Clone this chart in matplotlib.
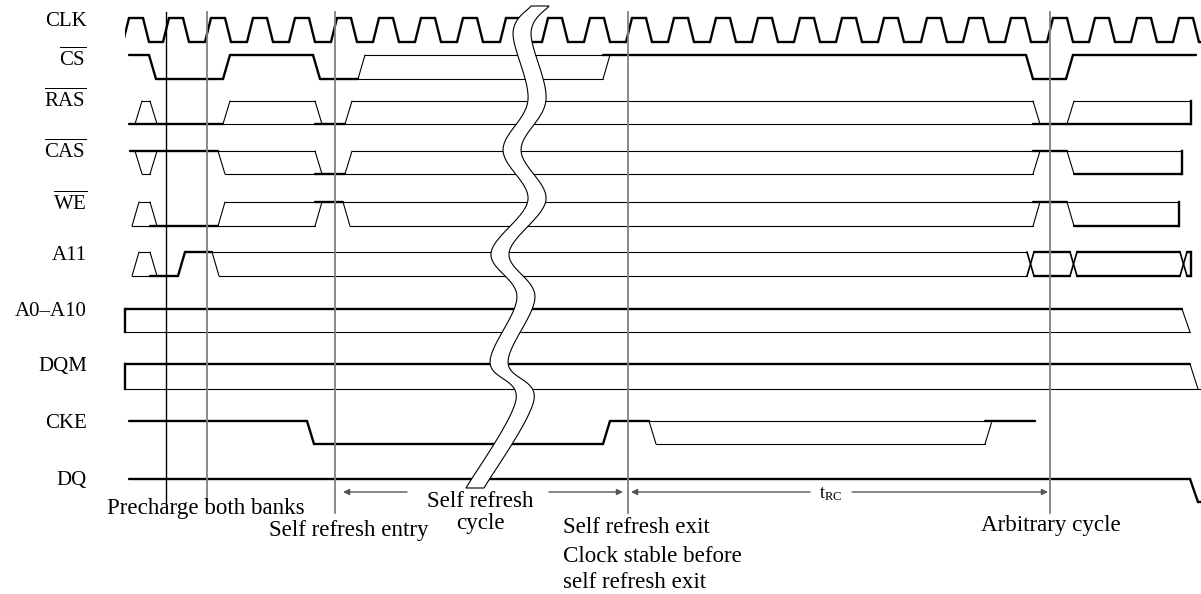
import numpy as np
import matplotlib.pyplot as plt
from matplotlib.patches import Polygon, Rectangle

plt.rcParams['font.family'] = ['Liberation Serif', 'DejaVu Serif']
plt.rcParams['mathtext.fontset'] = 'custom'
plt.rcParams['mathtext.rm'] = 'Liberation Serif'
plt.rcParams['mathtext.it'] = 'Liberation Serif:italic'

THICK = 1.7
THIN = 0.8

# =========================
# SIGNAL DATA
# edges: x position where each state starts, last one = end of trace
# states: H high, L low, X don't care, V valid bus,
#         T top thick/bottom thin, U top thin/bottom thick, l thin low
# =========================
labels = ['CLK', r'$\overline{\mathrm{CS}}$', r'$\overline{\mathrm{RAS}}$',
          r'$\overline{\mathrm{CAS}}$', r'$\overline{\mathrm{WE}}$', 'A11',
          'A0\u2013A10', 'DQM', 'CKE', 'DQ']
label_y = [22, 59, 100, 151, 203, 256, 312, 366, 423, 481]

# row levels (high, low)
levels = [(18, 42), (55, 79), (101, 124), (151, 174), (202, 226),
          (252, 276), (309, 332), (364, 389), (421, 444), (479, 502)]

clk_rise = [126, 166, 208, 250, 292, 334, 376, 418, 460, 503, 545, 587, 629,
            671, 713, 755, 797, 839, 881, 924, 966, 1008, 1050, 1092, 1134, 1176]

cs_edges = [129, 149, 223, 313, 358, 603, 1026, 1066, 1196]
cs_states = ['H', 'L', 'H', 'L', 'X', 'H', 'L', 'H']

ras_edges = [129, 135, 150, 223, 315, 345, 1033, 1067, 1191]
ras_states = ['L', 'U', 'L', 'X', 'L', 'X', 'L', 'U']

cas_edges = [130, 135, 150, 218, 315, 345, 1033, 1067, 1182]
cas_states = ['H', 'T', 'H', 'X', 'L', 'X', 'H', 'U']

we_edges = [132, 132, 150, 218, 315, 343, 1033, 1067, 1179]
we_states = ['L', 'X', 'L', 'X', 'H', 'X', 'H', 'U']

a11_edges = [132, 132, 150, 178, 212, 1027, 1070, 1180, 1191]
a11_states = ['L', 'X', 'L', 'H', 'X', 'V', 'V', 'V']

addr_edges = [125, 1182, 1190]
addr_states = ['T', 'l']

dqm_edges = [125, 1190, 1215]
dqm_states = ['T', 'l']

cke_edges = [129, 307, 603, 649, 985, 1035]
cke_states = ['H', 'L', 'H', 'X', 'H']

dq_edges = [129, 1190, 1215]
dq_states = ['H', 'L']

# vertical markers
marker_x = [166, 207, 335, 628, 1050]
marker_end = [505, 505, 513, 513, 513]
marker_color = ['black', 'gray', 'gray', 'gray', 'gray']

# break mark centre line (y, x)
break_y = [6, 33, 100, 150, 200, 253, 297, 362, 400, 488]
break_x = [540, 522, 537, 512, 537, 500, 526, 499, 525, 475]

# arrows (tail, head) on the timing row
arrow_tail = [407, 549, 810, 852]
arrow_head = [343, 623, 631, 1048]
arrow_y = 492

notes = ['Precharge both banks', 'Self refresh entry', 'Self refresh', 'cycle',
         'Self refresh exit', 'Clock stable before', 'self refresh exit',
         'Arbitrary cycle']
note_x = [206, 349, 480, 480, 563, 563, 563, 1051]
note_y = [514, 536, 507, 529, 533, 562, 588, 531]
note_ha = ['center', 'center', 'center', 'center', 'left', 'left', 'left', 'center']

STYLE = {
    'H': {'H': THICK},
    'L': {'L': THICK},
    'l': {'L': THIN},
    'X': {'H': THIN, 'L': THIN},
    'V': {'H': THICK, 'L': THICK},
    'T': {'H': THICK, 'L': THIN},
    'U': {'H': THIN, 'L': THICK},
}
OTHER = {'H': 'L', 'L': 'H'}


def draw_signal(ax, edges, states, hi, lo, w=7, bar_start=False, bar_end=False):
    yv = {'H': hi, 'L': lo}
    arts = []
    for i, s in enumerate(states):
        t0, t1 = edges[i], edges[i + 1]
        prev = states[i - 1] if i > 0 else None
        cross = (prev is not None and len(STYLE[prev]) == 2 and len(STYLE[s]) == 2
                 and 'V' in (prev, s))
        for lv, lw in STYLE[s].items():
            xs = t0
            if prev is not None and (cross or lv not in STYLE[prev]):
                xs = t0 + w
            if t1 > xs:
                arts += ax.plot([xs, t1], [yv[lv]] * 2, color='black', lw=lw,
                                solid_capstyle='round')
        if prev is None:
            continue
        if cross:
            segs = {('H', 'L'), ('L', 'H')}
        else:
            segs = set()
            for lv in STYLE[prev]:
                if lv not in STYLE[s]:
                    segs.add((lv, OTHER[lv]))
            for lv in STYLE[s]:
                if lv not in STYLE[prev]:
                    segs.add((OTHER[lv], lv))
        pure = prev in ('H', 'L') and s in ('H', 'L')
        elw = THICK if pure else (1.2 if cross else THIN)
        for a, b in segs:
            arts += ax.plot([t0, t0 + w], [yv[a], yv[b]], color='black', lw=elw,
                            solid_capstyle='round')
    if bar_start:
        arts += ax.plot([edges[0]] * 2, [hi, lo], color='black', lw=THICK)
    if bar_end:
        arts += ax.plot([edges[-1]] * 2, [hi, lo], color='black', lw=THICK)
    return arts


def catmull(pts, n=14):
    p = np.asarray(pts, float)
    p = np.vstack([p[0], p, p[-1]])
    out = []
    for i in range(1, len(p) - 2):
        p0, p1, p2, p3 = p[i - 1], p[i], p[i + 1], p[i + 2]
        for s in np.linspace(0, 1, n, endpoint=False):
            out.append(0.5 * (2 * p1 + (-p0 + p2) * s
                              + (2 * p0 - 5 * p1 + 4 * p2 - p3) * s ** 2
                              + (-p0 + 3 * p1 - 3 * p2 + p3) * s ** 3))
    out.append(p[-2])
    return np.array(out)


# =========================
# FIGURE
# =========================
fig = plt.figure(figsize=(12.01, 5.94), dpi=100)
ax = fig.add_axes([0, 0, 1, 1])
ax.set_xlim(0, 1201)
ax.set_ylim(594, 0)
ax.axis('off')

# clock
clk_edges, clk_states = [100], ['L']
for r in clk_rise:
    clk_edges += [r - 3, r + 17]
    clk_states += ['H', 'L']
clk_edges.append(1220)
clk_arts = draw_signal(ax, clk_edges, clk_states, *levels[0], w=6)
clip = Rectangle((125, 0), 1100, 594, transform=ax.transData)
for a in clk_arts:
    a.set_clip_path(clip)

draw_signal(ax, cs_edges, cs_states, *levels[1])
draw_signal(ax, ras_edges, ras_states, *levels[2], bar_end=True)
draw_signal(ax, cas_edges, cas_states, *levels[3], bar_end=True)
draw_signal(ax, we_edges, we_states, *levels[4], bar_end=True)
draw_signal(ax, a11_edges, a11_states, *levels[5], bar_end=True)
draw_signal(ax, addr_edges, addr_states, *levels[6], w=8, bar_start=True)
draw_signal(ax, dqm_edges, dqm_states, *levels[7], w=8, bar_start=True)
draw_signal(ax, cke_edges, cke_states, *levels[8])
draw_signal(ax, dq_edges, dq_states, *levels[9], w=8)

# vertical markers
for x, ye, c in zip(marker_x, marker_end, marker_color):
    ax.plot([x, x], [12, ye], color=c, lw=1.0 if c == 'black' else 1.3, zorder=3)

# break mark
centre = catmull(np.column_stack([break_x, break_y]))
half = 9.0
left = np.column_stack([centre[:, 0] - half, centre[:, 1]])
right = np.column_stack([centre[:, 0] + half, centre[:, 1]])
band = Polygon(np.vstack([left, right[::-1]]), closed=True, facecolor='white',
               edgecolor='black', lw=0.8, joinstyle='round', zorder=5)
ax.add_patch(band)

# signal labels
for txt, y in zip(labels, label_y):
    ax.text(87, y, txt, ha='right', va='center', fontsize=15, zorder=6)

# timing arrows
for t, h in zip(arrow_tail, arrow_head):
    ax.annotate('', xy=(h, arrow_y), xytext=(t, arrow_y),
                arrowprops=dict(arrowstyle='-|>', color='#555555', lw=1.0,
                                mutation_scale=9, shrinkA=0, shrinkB=0))
ax.text(831, arrow_y + 6, r'$\mathrm{t_{RC}}$', ha='center', va='baseline', fontsize=13)

# notes
for txt, x, y, ha in zip(notes, note_x, note_y, note_ha):
    ax.text(x, y, txt, ha=ha, va='baseline', fontsize=16.6, zorder=6)

plt.savefig('out.png', dpi=100)
